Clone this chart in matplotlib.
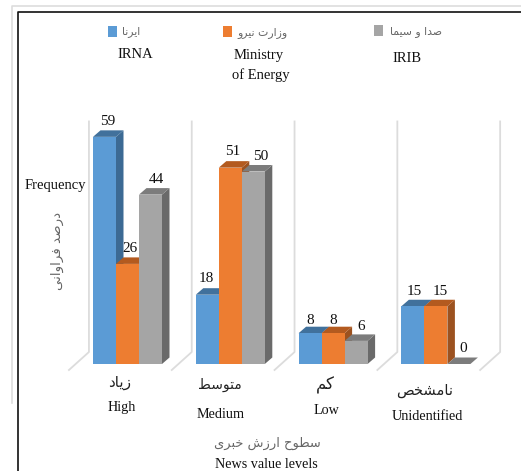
import matplotlib
matplotlib.use("Agg")
import matplotlib.pyplot as plt
from matplotlib.patches import Polygon, Rectangle
from matplotlib.lines import Line2D

levels_fa = ["زیاد", "متوسط", "کم", "نامشخص"]
levels_en = ["High", "Medium", "Low", "Unidentified"]
series_fa = ["ایرنا", "وزارت نیرو", "صدا و سیما"]
irna = [59, 18, 8, 15]
energy = [26, 51, 8, 15]
irib = [44, 50, 6, 0]

# ---- Persian shaping: matplotlib has none, so map to presentation forms in visual order
FORMS = {
    "ا": (0xFE8D, 0xFE8E), "د": (0xFEA9, 0xFEAA), "ر": (0xFEAD, 0xFEAE), "ز": (0xFEAF, 0xFEB0),
    "و": (0xFEED, 0xFEEE),
    "ب": (0xFE8F, 0xFE90, 0xFE91, 0xFE92), "ت": (0xFE95, 0xFE96, 0xFE97, 0xFE98),
    "ح": (0xFEA1, 0xFEA2, 0xFEA3, 0xFEA4), "خ": (0xFEA5, 0xFEA6, 0xFEA7, 0xFEA8),
    "س": (0xFEB1, 0xFEB2, 0xFEB3, 0xFEB4), "ش": (0xFEB5, 0xFEB6, 0xFEB7, 0xFEB8),
    "ص": (0xFEB9, 0xFEBA, 0xFEBB, 0xFEBC), "ط": (0xFEC1, 0xFEC2, 0xFEC3, 0xFEC4),
    "ف": (0xFED1, 0xFED2, 0xFED3, 0xFED4), "م": (0xFEE1, 0xFEE2, 0xFEE3, 0xFEE4),
    "ن": (0xFEE5, 0xFEE6, 0xFEE7, 0xFEE8), "ی": (0xFBFC, 0xFBFD, 0xFBFE, 0xFBFF),
    "ک": (0xFB8E, 0xFB8F, 0xFB90, 0xFB91),
}
def fa(s):
    out = []
    for i, c in enumerate(s):
        if c not in FORMS:
            out.append(c)
            continue
        p = s[i - 1] if i else " "
        n = s[i + 1] if i + 1 < len(s) else " "
        prev_joins = p in FORMS and len(FORMS[p]) == 4
        next_joins = n in FORMS
        f = FORMS[c]
        if len(f) == 2:
            out.append(chr(f[1] if prev_joins else f[0]))
        elif prev_joins and next_joins:
            out.append(chr(f[3]))
        elif prev_joins:
            out.append(chr(f[1]))
        elif next_joins:
            out.append(chr(f[2]))
        else:
            out.append(chr(f[0]))
    return "".join(reversed(out))

W, H = 521, 471
SERIF = ["Liberation Serif", "DejaVu Serif"]
fig = plt.figure(figsize=(W / 100, H / 100), dpi=100)
UX, UY = 102.8, 3.85          # pixels per category / per value
X0, Y0 = 127.5, 364           # pixel of category 0 / value 0
ax = fig.add_axes([0, 0, 1, 1])
ax.set_xlim(-X0 / UX, (W - X0) / UX)
ax.set_ylim(-(H - Y0) / UY, Y0 / UY)
ax.axis("off")

def ftext(x, y, s, **kw):
    kw.setdefault("ha", "center")
    kw.setdefault("va", "center")
    fig.text(x / W, 1 - y / H, s, **kw)

# frames
fig.add_artist(Line2D([11.5 / W, 11.5 / W, 1], [1 - 403 / H, 1 - 6 / H, 1 - 6 / H], color="#dddddd", lw=1.2))
fig.add_artist(Line2D([17.5 / W, 17.5 / W, 1], [0, 1 - 12 / H, 1 - 12 / H], color="#111111", lw=1.2))

# walls
DX_W, DY_W = 20 / UX, 18 / UY
for i in range(5):
    xb = i - 0.375
    yb = 12 / UY
    ax.plot([xb, xb, xb - DX_W], [63, yb, yb - DY_W], color="#dcdcdc", lw=1.3, zorder=1)

# bars
DX, DY = 7.5 / UX, 6.5 / UY
BW = 23 / UX
styles = [("#5b9bd5", "#3c6a94", "#41719c"),
          ("#ed7d31", "#9c5220", "#b35a1f"),
          ("#a5a5a5", "#6a6a6a", "#7c7c7c")]
offsets = [[(3.5, 15), (-1.5, 16), (0.5, 13), (1, 15)],
           [(2.5, 15), (2.5, 16), (0.5, 13), (4, 15)],
           [(5.5, 15), (7.5, 15), (5, 14), (4, 16)]]
all_series = [irna, energy, irib]
for s, vals in enumerate(all_series):
    front, side, top = styles[s]
    for c, v in enumerate(vals):
        x = c + (s - 1) * BW
        l, r = x - BW / 2, x + BW / 2
        z = 3 + c * 3 + s * 0.5
        ax.add_patch(Polygon([(r, 0), (r + DX, DY), (r + DX, v + DY), (r, v)], fc=side, ec="none", zorder=z))
        ax.add_patch(Polygon([(l, v), (l + DX, v + DY), (r + DX, v + DY), (r, v)], fc=top, ec="none", zorder=z))
        ax.bar(x, v, BW, color=front, linewidth=0, zorder=z + 0.1)
        dx, dy = offsets[s][c]
        ax.annotate(str(v), (x, v), xytext=(dx * 0.72, dy * 0.72), textcoords="offset points",
                    ha="center", va="center", fontsize=11, family=SERIF, color="#111111", zorder=30)

# legend
for (x, y), st in zip([(108, 26), (223, 26), (374, 25)], styles):
    fig.add_artist(Rectangle((x / W, 1 - (y + 10.5) / H), 9 / W, 10.5 / H, transform=fig.transFigure, fc=st[0], ec="none"))
for (x, y), s in zip([(131, 32), (262, 33), (416, 32)], series_fa):
    ftext(x, y, fa(s), fontsize=7.8, color="#666666", family="DejaVu Sans")
ftext(135, 54, "IRNA", fontsize=10.5, family=SERIF, color="#111111")
ftext(259, 55, "Ministry", fontsize=10.5, family=SERIF, color="#111111")
ftext(261, 75, "of Energy", fontsize=10.5, family=SERIF, color="#111111")
ftext(407, 59, "IRIB", fontsize=10.5, family=SERIF, color="#111111")

# y axis
ftext(55, 186, "Frequency", fontsize=10.5, family=SERIF, color="#111111")
ftext(57, 251, fa("درصد فراوانی"), rotation=90, fontsize=9.6, color="#666666", family="DejaVu Sans")

# categories
for x, y, s, fs in zip([120, 220, 325, 425], [383, 385, 385, 391], levels_fa, [11, 10, 12, 10.5]):
    ftext(x, y, fa(s), fontsize=fs, color="#222222", family="DejaVu Sans")
for x, y, s in zip([122, 221, 326, 427], [408, 414, 411, 417], levels_en):
    ftext(x, y, s, fontsize=10.2, family=SERIF, color="#111111")

# x title
ftext(267, 443, fa("سطوح ارزش خبری"), fontsize=9.4, color="#666666", family="DejaVu Sans")
ftext(266, 465, "News value levels", fontsize=10.2, family=SERIF, color="#111111")

fig.savefig("out.png", dpi=100)
